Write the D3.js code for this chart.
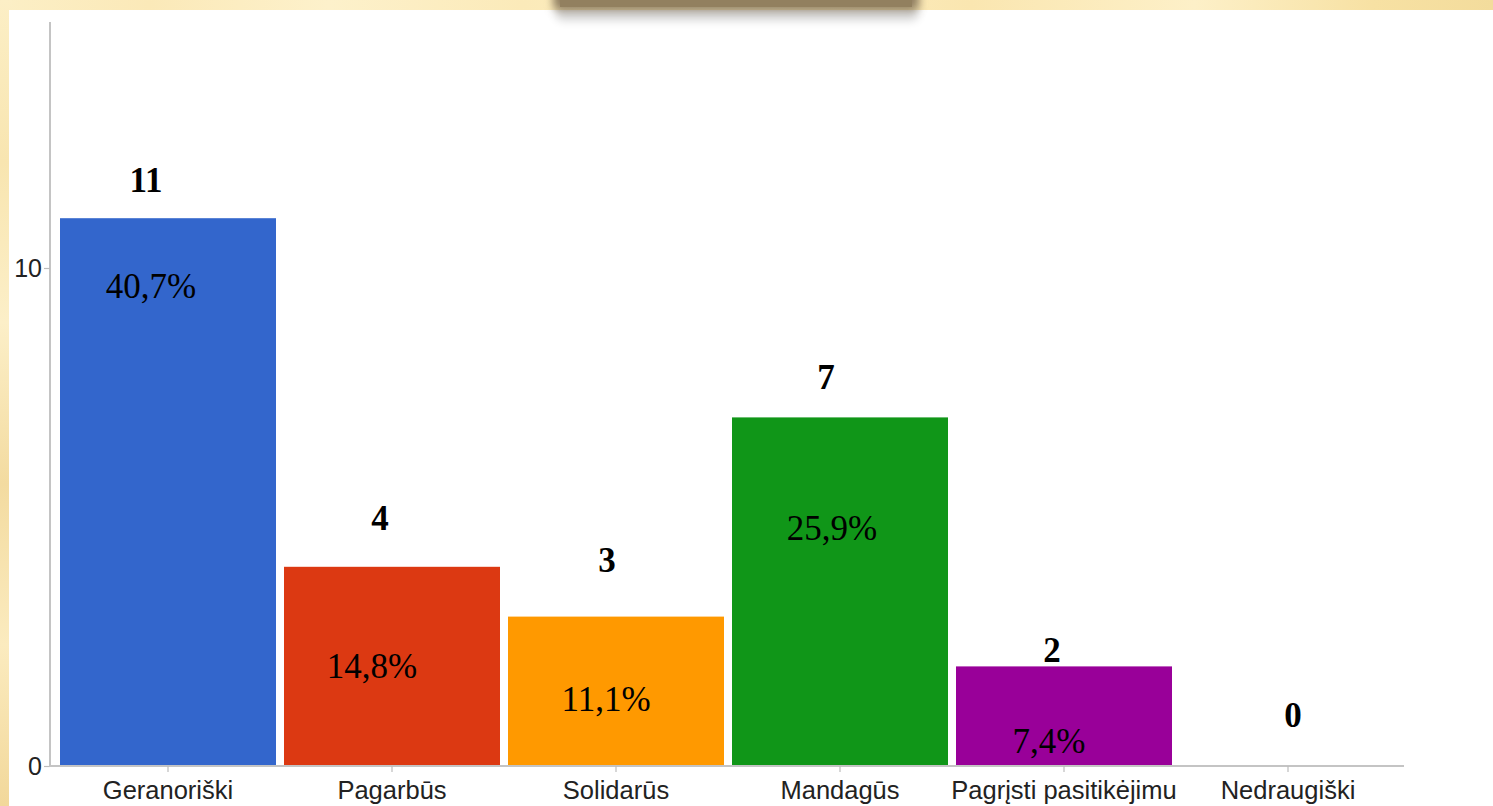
<!DOCTYPE html>
<html>
<head>
<meta charset="utf-8">
<script src="https://cdn.jsdelivr.net/npm/d3@7"></script>
<style>
  html, body { margin: 0; padding: 0; width: 1493px; height: 806px; overflow: hidden; background: #fcefc4; }
  svg { display: block; }
</style>
</head>
<body>
<svg id="chart" width="1493" height="806"></svg>
<script>
// ---- data ----
const categories = ["Geranoriški", "Pagarbūs", "Solidarūs", "Mandagūs", "Pagrįsti pasitikėjimu", "Nedraugiški"];
const counts = [11, 4, 3, 7, 2, 0];
const percentLabels = ["40,7%", "14,8%", "11,1%", "25,9%", "7,4%", null];
const yTicks = [0, 10];
const colors = ["#3366cc", "#dc3912", "#ff9900", "#109618", "#990099", "#0099c6"];

// ---- layout (hand-placed annotation nudges, relative to bar centre / bar top) ----
const valueNudge = [[-22, -26], [-12, -37], [-9, -45], [-14, -28], [-12, -4], [5, -39]];
const pctNudge = [[-17, 80], [-20, 111], [-10, 94], [-8, 123], [-15, 87], [0, 0]];

const svg = d3.select("#chart");
const W = 1493, H = 806;

// parchment background
const defs = svg.append("defs");
const gTop = defs.append("linearGradient").attr("id", "parchTop").attr("x1", 0).attr("x2", 1).attr("y1", 0).attr("y2", 0);
[["0%", "#fcefc6"], ["10%", "#fbe9b8"], ["22%", "#fdf1cb"], ["35%", "#fbeab9"], ["50%", "#fdf0c6"], ["65%", "#fae6b0"], ["80%", "#fdf0c8"], ["92%", "#f7e1a3"], ["100%", "#f3dc9c"]]
  .forEach(([o, c]) => gTop.append("stop").attr("offset", o).attr("stop-color", c));
const gLeft = defs.append("linearGradient").attr("id", "parchLeft").attr("x1", 0).attr("x2", 0).attr("y1", 0).attr("y2", 1);
[["0%", "#fcefc6"], ["20%", "#f8e5b0"], ["40%", "#fcefc8"], ["60%", "#f3dba0"], ["80%", "#fbebbf"], ["100%", "#f2d89a"]]
  .forEach(([o, c]) => gLeft.append("stop").attr("offset", o).attr("stop-color", c));
const blur = defs.append("filter").attr("id", "shadowBlur").attr("x", "-20%").attr("y", "-200%").attr("width", "140%").attr("height", "500%");
blur.append("feGaussianBlur").attr("stdDeviation", 5);

svg.append("rect").attr("x", 0).attr("y", 0).attr("width", W).attr("height", H).attr("fill", "url(#parchTop)");
svg.append("rect").attr("x", 0).attr("y", 0).attr("width", 12).attr("height", H).attr("fill", "url(#parchLeft)");
svg.append("rect").attr("x", 9).attr("y", 10).attr("width", W - 9).attr("height", H - 10).attr("fill", "#ffffff");

// shadowed dark tab at the top
svg.append("rect").attr("x", 556).attr("y", -14).attr("width", 362).attr("height", 34).attr("rx", 6)
  .attr("fill", "#000").attr("opacity", 0.18).attr("filter", "url(#shadowBlur)");
svg.append("rect").attr("x", 554).attr("y", -10).attr("width", 364).attr("height", 19).attr("rx", 4)
  .attr("fill", "#8e7b5e").attr("filter", "url(#shadowBlur)");
svg.append("rect").attr("x", 560).attr("y", -10).attr("width", 352).attr("height", 17)
  .attr("fill", "#92805f");

// ---- scales ----
const x = d3.scaleBand().domain(categories).range([56, 1400]).paddingInner(8 / 224).paddingOuter(4 / 224);
const y = d3.scaleLinear().domain([0, 15]).range([766, 19]);

// bars
svg.append("g").selectAll("rect").data(categories).join("rect")
  .attr("x", d => x(d))
  .attr("y", (d, i) => y(counts[i]))
  .attr("width", x.bandwidth())
  .attr("height", (d, i) => y(0) - y(counts[i]))
  .attr("fill", (d, i) => colors[i]);

// y axis
const yAxis = svg.append("g").attr("transform", "translate(50,0)")
  .call(d3.axisLeft(y).tickValues(yTicks).tickSize(6).tickPadding(2).tickFormat(d3.format("d")));
yAxis.select(".domain").attr("stroke", "#c4c4c4").attr("stroke-width", 2).attr("d", `M0,${y(15) + 3}V${y(0)}`);
yAxis.selectAll(".tick line").attr("stroke", "#bdbdbd").attr("stroke-width", 1.2);
yAxis.selectAll(".tick text").attr("font-family", "Liberation Sans, Arial, sans-serif").attr("font-size", 25).attr("fill", "#222");

// x axis
const xAxis = svg.append("g").attr("transform", `translate(0,${y(0)})`)
  .call(d3.axisBottom(x).tickSize(6).tickPadding(6).tickSizeOuter(0));
xAxis.select(".domain").attr("stroke", "#c4c4c4").attr("stroke-width", 2).attr("d", `M49,0H1404`);
xAxis.selectAll(".tick line").attr("stroke", "#bdbdbd").attr("stroke-width", 1.2);
xAxis.selectAll(".tick text").attr("font-family", "Liberation Sans, Arial, sans-serif").attr("font-size", 25.5).attr("fill", "#222")
  .attr("dy", "0.82em");

// value labels (bold, serif) above bars
svg.append("g").selectAll("text").data(categories).join("text")
  .attr("x", (d, i) => x(d) + x.bandwidth() / 2 + valueNudge[i][0])
  .attr("y", (d, i) => y(counts[i]) + valueNudge[i][1])
  .attr("text-anchor", "middle")
  .attr("font-family", "Liberation Serif, Times New Roman, serif")
  .attr("font-weight", "bold")
  .attr("font-size", 35)
  .attr("fill", "#000")
  .text((d, i) => counts[i]);

// percentage labels inside bars
svg.append("g").selectAll("text").data(categories.filter((d, i) => percentLabels[i])).join("text")
  .attr("x", d => { const i = categories.indexOf(d); return x(d) + x.bandwidth() / 2 + pctNudge[i][0]; })
  .attr("y", d => { const i = categories.indexOf(d); return y(counts[i]) + pctNudge[i][1]; })
  .attr("text-anchor", "middle")
  .attr("font-family", "Liberation Serif, Times New Roman, serif")
  .attr("font-size", 35)
  .attr("fill", "#000")
  .text(d => percentLabels[categories.indexOf(d)]);
</script>
</body>
</html>
